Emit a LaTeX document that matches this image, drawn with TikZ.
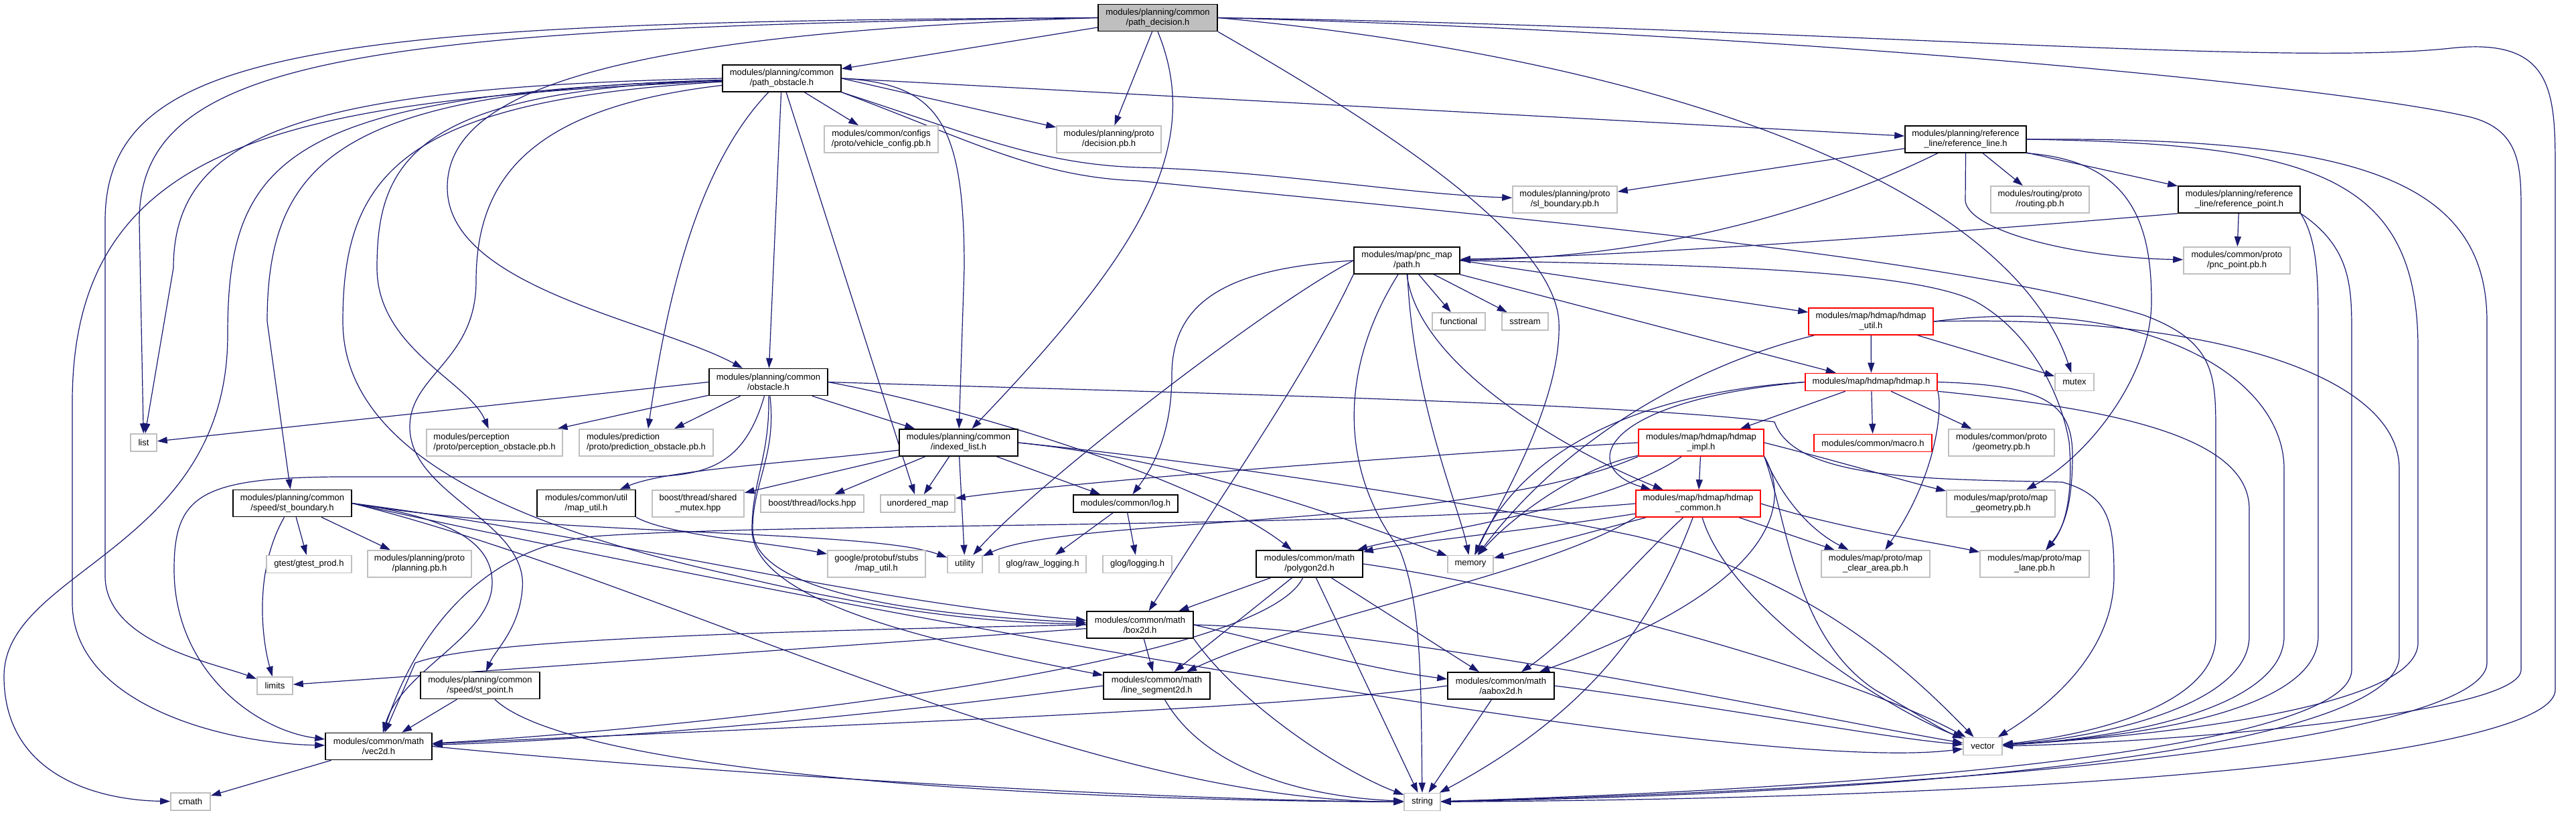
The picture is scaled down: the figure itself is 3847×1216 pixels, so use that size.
\documentclass[tikz,border=0pt]{standalone}
\usepackage{fontspec}
\setmainfont{Liberation Sans}
\usepackage{xcolor}
\usetikzlibrary{arrows.meta}

\definecolor{edgeblue}{RGB}{25,25,112}
\definecolor{boxgray}{RGB}{191,191,191}
\newcommand{\dxfont}{\fontsize{13pt}{15pt}\selectfont}
\pgfdeclarelayer{bg}
\pgfsetlayers{bg,main}

\begin{document}
\begin{tikzpicture}[x=1pt, y=-1pt,
    doc/.style={draw=black, line width=1.6pt, fill=white, font=\dxfont, align=center, inner sep=0pt, minimum height=40},
    sys/.style={doc, draw=boxgray},
    cut/.style={doc, draw=red},
    one/.style={minimum height=26},
    dep/.style={draw=edgeblue, line width=1.2pt, -{Triangle[length=15pt, width=10pt]}}]

        \useasboundingbox (0,0) rectangle (3847,1216);

        % Fila 0-4
        \node[doc, fill=boxgray, minimum width=178] (pd) at (1729,26.5) {modules/planning/common\\/path\_decision.h};
        \node[doc, minimum width=177] (po) at (1167.5,117) {modules/planning/common\\/path\_obstacle.h};
        \node[sys, minimum width=170] (vcfg) at (1316,208) {modules/common/configs\\/proto/vehicle\_config.pb.h};
        \node[sys, minimum width=156] (dec) at (1656,208) {modules/planning/proto\\/decision.pb.h};
        \node[doc, minimum width=181] (refl) at (2935.5,208) {modules/planning/reference\\\_line/reference\_line.h};
        \node[sys, minimum width=156] (slb) at (2337,298) {modules/planning/proto\\/sl\_boundary.pb.h};
        \node[sys, minimum width=147] (rout) at (3046.5,298) {modules/routing/proto\\/routing.pb.h};
        \node[doc, minimum width=182] (refp) at (3344,298) {modules/planning/reference\\\_line/reference\_point.h};
        \node[doc, minimum width=158] (path) at (2101,389) {modules/map/pnc\_map\\/path.h};
        \node[sys, minimum width=159] (pncp) at (3340.5,389) {modules/common/proto\\/pnc\_point.pb.h};

        % Fila 5-7
        \node[sys, one, minimum width=79] (func) at (2178.5,480) {functional};
        \node[sys, one, minimum width=69] (sstr) at (2277.5,480) {sstream};
        \node[cut, minimum width=186] (hutil) at (2794,480) {modules/map/hdmap/hdmap\\\_util.h};
        \node[doc, minimum width=177] (obs) at (1147.5,570.5) {modules/planning/common\\/obstacle.h};
        \node[cut, one, minimum width=197] (hdmap) at (2794.5,570.5) {modules/map/hdmap/hdmap.h};
        \node[sys, one, minimum width=58] (mutex) at (3098,570.5) {mutex};
        \node[sys, one, minimum width=39] (list) at (214.5,661) {list};
        \node[sys, align=left, minimum width=203] (perc) at (738.5,661) {modules/perception\\/proto/perception\_obstacle.pb.h};
        \node[sys, align=left, minimum width=200] (pred) at (965,661) {modules/prediction\\/proto/prediction\_obstacle.pb.h};
        \node[doc, minimum width=177] (il) at (1431.5,661) {modules/planning/common\\/indexed\_list.h};
        \node[cut, minimum width=187] (himpl) at (2540.5,661) {modules/map/hdmap/hdmap\\\_impl.h};
        \node[cut, one, minimum width=176] (macro) at (2797,661.5) {modules/common/macro.h};
        \node[sys, minimum width=158] (geom) at (2989,661) {modules/common/proto\\/geometry.pb.h};

        % Fila 8-9
        \node[doc, minimum width=177] (stb) at (436.5,751.5) {modules/planning/common\\/speed/st\_boundary.h};
        \node[doc, minimum width=147] (mutil) at (875.5,751.5) {modules/common/util\\/map\_util.h};
        \node[sys, minimum width=137] (smtx) at (1042.5,752) {boost/thread/shared\\\_mutex.hpp};
        \node[sys, one, minimum width=154] (locks) at (1213,752) {boost/thread/locks.hpp};
        \node[sys, one, minimum width=111] (umap) at (1370.5,752) {unordered\_map};
        \node[doc, one, minimum width=156] (log) at (1681,752) {modules/common/log.h};
        \node[cut, minimum width=186] (hcom) at (2536,752) {modules/map/hdmap/hdmap\\\_common.h};
        \node[sys, minimum width=162] (mgeom) at (2988,752) {modules/map/proto/map\\\_geometry.pb.h};
        \node[sys, one, minimum width=127] (gtest) at (461.5,842.5) {gtest/gtest\_prod.h};
        \node[sys, minimum width=155] (plan) at (626.5,842) {modules/planning/proto\\/planning.pb.h};
        \node[sys, minimum width=146] (gmutil) at (1309,842) {google/protobuf/stubs\\/map\_util.h};
        \node[sys, one, minimum width=52] (util) at (1441,842.5) {utility};
        \node[sys, one, minimum width=130] (rawlog) at (1557,842.5) {glog/raw\_logging.h};
        \node[sys, one, minimum width=103] (glog) at (1698.5,842.5) {glog/logging.h};
        \node[doc, minimum width=159] (poly) at (1955.5,842) {modules/common/math\\/polygon2d.h};
        \node[sys, one, minimum width=68] (mem) at (2196,842.5) {memory};
        \node[sys, minimum width=162] (clr) at (2801,842) {modules/map/proto/map\\\_clear\_area.pb.h};
        \node[sys, minimum width=163] (lane) at (3038.5,842) {modules/map/proto/map\\\_lane.pb.h};

        % Fila 10-13
        \node[doc, minimum width=159] (box) at (1702.5,933) {modules/common/math\\/box2d.h};
        \node[sys, one, minimum width=53] (limits) at (410.5,1024) {limits};
        \node[doc, minimum width=178] (stp) at (717,1023.5) {modules/planning/common\\/speed/st\_point.h};
        \node[doc, minimum width=159] (lseg) at (1727.5,1024) {modules/common/math\\/line\_segment2d.h};
        \node[doc, minimum width=159] (aab) at (2241.5,1024) {modules/common/math\\/aabox2d.h};
        \node[doc, minimum width=159] (vecd) at (565.5,1114.5) {modules/common/math\\/vec2d.h};
        \node[sys, one, minimum width=58] (vec) at (2961,1114.5) {vector};
        \node[sys, one, minimum width=59] (cmath) at (284.5,1197) {cmath};
        \node[sys, one, minimum width=54] (str) at (2124,1197.5) {string};

        \begin{pgfonlayer}{bg}
        % path_decision.h
        \draw[dep] (pd) -- (po);
        \draw[dep] (pd) -- (dec);
        \draw[dep] (pd.west) .. controls (520,40) and (208,90) .. (208,330) -- (list);
        \draw[dep] (pd.west) .. controls (480,32) and (157,70) .. (157,330) -- (157,860) .. controls (157,960) and (320,990) .. (limits);
        \draw[dep] (pd.west) .. controls (900,50) and (668,140) .. (668,280) .. controls (668,430) and (980,480) .. (obs);
        \draw[dep] (pd.south) .. controls (1800,220) and (1700,380) .. (il);
        \draw[dep] (pd.east) .. controls (2500,90) and (3000,280) .. (mutex);
        \draw[dep] (pd.south east) .. controls (2050,180) and (2320,350) .. (2328,480) .. controls (2333,600) and (2240,750) .. (mem);
        \draw[dep] (pd.east) .. controls (2700,40) and (3400,100) .. (3660,72) .. controls (3816,55) and (3816,140) .. (3816,260) -- (3816,1030) .. controls (3816,1110) and (3300,1190) .. (str);
        \draw[dep] (pd.east) .. controls (2700,50) and (3500,130) .. (3690,175) .. controls (3765,195) and (3765,250) .. (3765,320) -- (3765,1000) .. controls (3765,1070) and (3200,1110) .. (vec);

        % path_obstacle.h
        \draw[dep] (po) -- (vcfg);
        \draw[dep] (po.east) -- (dec);
        \draw[dep] (po.east) -- (refl);
        \draw[dep] (po.south east) .. controls (1450,200) and (1550,245) .. (1700,250) .. controls (1900,255) and (2100,290) .. (slb);
        \draw[dep] (po.south east) .. controls (1450,210) and (1550,265) .. (1700,270) .. controls (2200,320) and (2900,380) .. (3200,470) .. controls (3309,510) and (3309,560) .. (3309,650) -- (3309,950) .. controls (3309,1060) and (3100,1100) .. (vec);
        \draw[dep] (po.west) .. controls (450,130) and (259,200) .. (259,400) -- (list);
        \draw[dep] (po) -- (obs);
        \draw[dep] (po.east) .. controls (1400,125) and (1440,180) .. (1440,400) -- (il);
        \draw[dep] (po) -- (umap);
        \draw[dep] (po) .. controls (1040,250) and (995,450) .. (pred);
        \draw[dep] (po) .. controls (620,135) and (563,240) .. (563,400) .. controls (563,520) and (700,570) .. (perc);
        \draw[dep] (po) .. controls (520,135) and (399,230) .. (399,480) -- (stb);
        \draw[dep] (po) .. controls (600,150) and (512,260) .. (512,480) .. controls (512,680) and (780,790) .. (1100,860) .. controls (1350,920) and (1500,930) .. (box);
        \draw[dep] (po) .. controls (420,140) and (340,240) .. (340,500) .. controls (340,820) and (6,850) .. (6,1010) .. controls (6,1160) and (150,1195) .. (cmath);
        \draw[dep] (po) .. controls (450,150) and (108,200) .. (108,600) -- (108,900) .. controls (108,1050) and (330,1110) .. (vecd);
        \draw[dep] (po) .. controls (800,160) and (711,260) .. (711,420) .. controls (711,540) and (610,560) .. (612,640) .. controls (615,740) and (790,780) .. (780,880) .. controls (775,940) and (740,970) .. (stp);

        % obstacle.h
        \draw[dep] (obs) -- (pred);
        \draw[dep] (obs) -- (perc);
        \draw[dep] (obs.west) -- (list);
        \draw[dep] (obs) -- (il);
        \draw[dep] (obs.east) .. controls (1450,610) and (1800,720) .. (poly);
        \draw[dep] (obs) .. controls (1160,680) and (1124,720) .. (1124,790) .. controls (1124,890) and (1400,920) .. (box);
        \draw[dep] (obs) .. controls (1150,680) and (1123,720) .. (1123,790) .. controls (1123,900) and (1400,960) .. (lseg);
        \draw[dep] (obs) .. controls (1110,700) and (1050,712) .. (950,712) -- (500,712) .. controls (300,714) and (260,740) .. (260,850) .. controls (260,1000) and (380,1090) .. (vecd);
        \draw[dep] (obs.east) .. controls (1700,585) and (2400,600) .. (2650,630) .. controls (2680,720) and (2900,715) .. (3080,720) .. controls (3150,740) and (3157,780) .. (3157,860) .. controls (3157,980) and (3050,1060) .. (vec);

        % indexed_list.h
        \draw[dep] (il) -- (smtx);
        \draw[dep] (il) -- (locks);
        \draw[dep] (il) -- (umap);
        \draw[dep] (il) -- (log);
        \draw[dep] (il) -- (util);
        \draw[dep] (il) .. controls (1200,690) and (1000,700) .. (mutil);
        \draw[dep] (il.east) .. controls (1800,690) and (2050,790) .. (mem);
        \draw[dep] (il.east) .. controls (1900,700) and (2300,770) .. (2440,800) .. controls (2700,860) and (2850,1000) .. (vec);

        % log.h, map_util.h
        \draw[dep] (log) -- (rawlog);
        \draw[dep] (log) -- (glog);
        \draw[dep] (mutil.south east) .. controls (1000,800) and (1150,810) .. (gmutil);

        % st_boundary.h
        \draw[dep] (stb) -- (gtest);
        \draw[dep] (stb) -- (plan);
        \draw[dep] (stb) .. controls (380,850) and (390,950) .. (limits);
        \draw[dep] (stb.east) .. controls (900,800) and (1300,900) .. (box);
        \draw[dep] (stb.east) .. controls (800,800) and (1300,790) .. (util);
        \draw[dep] (stb.east) .. controls (650,770) and (735,800) .. (735,870) .. controls (735,950) and (600,1000) .. (vecd);
        \draw[dep] (stb.east) .. controls (1000,870) and (1600,1195) .. (str);
        \draw[dep] (stb.east) .. controls (1200,900) and (2600,1160) .. (vec);

        % st_point.h, vec2d.h
        \draw[dep] (stp) -- (vecd);
        \draw[dep] (stp) .. controls (850,1150) and (1500,1195) .. (str);
        \draw[dep] (vecd) -- (cmath);
        \draw[dep] (vecd.east) .. controls (1000,1150) and (1700,1195) .. (str);

        % box2d.h, line_segment2d.h, aabox2d.h
        \draw[dep] (box) -- (limits);
        \draw[dep] (box) -- (lseg);
        \draw[dep] (box.west) .. controls (1000,945) and (700,960) .. (620,990) -- (vecd);
        \draw[dep] (box.east) .. controls (1900,960) and (2050,1000) .. (aab);
        \draw[dep] (box.south east) .. controls (1850,1050) and (2000,1150) .. (str);
        \draw[dep] (box.east) .. controls (2100,940) and (2700,1070) .. (vec);
        \draw[dep] (lseg.west) .. controls (1300,1070) and (900,1105) .. (vecd);
        \draw[dep] (lseg) .. controls (1800,1150) and (1950,1190) .. (str);
        \draw[dep] (aab.west) .. controls (1900,1060) and (1300,1080) .. (vecd);
        \draw[dep] (aab) -- (str);
        \draw[dep] (aab.east) .. controls (2600,1060) and (2800,1100) .. (vec);

        % polygon2d.h
        \draw[dep] (poly) -- (box);
        \draw[dep] (poly) -- (lseg);
        \draw[dep] (poly) -- (aab);
        \draw[dep] (poly) -- (str);
        \draw[dep] (poly) .. controls (1880,1000) and (1000,1090) .. (vecd);
        \draw[dep] (poly.east) .. controls (2300,880) and (2750,1000) .. (vec);

        % path.h
        \draw[dep] (path) -- (func);
        \draw[dep] (path) -- (sstr);
        \draw[dep] (path.east) -- (hutil);
        \draw[dep] (path) -- (hdmap);
        \draw[dep] (path.south) .. controls (2120,560) and (2380,690) .. (hcom);
        \draw[dep] (path) .. controls (2110,600) and (2180,760) .. (mem);
        \draw[dep] (path.west) .. controls (1850,400) and (1750,440) .. (1750,560) .. controls (1750,650) and (1720,700) .. (log);
        \draw[dep] (path) .. controls (2000,550) and (2000,700) .. (2090,820) .. controls (2122,900) and (2122,1000) .. (str);
        \draw[dep] (path.south west) .. controls (1950,560) and (1850,700) .. (box);
        \draw[dep] (path.west) .. controls (1900,450) and (1550,720) .. (util);
        \draw[dep] (path.east) .. controls (2500,395) and (2850,400) .. (2950,450) .. controls (3040,500) and (3080,600) .. (3090,660) .. controls (3095,720) and (3090,780) .. (lane);

        % reference_line.h
        \draw[dep] (refl) -- (rout);
        \draw[dep] (refl) -- (refp);
        \draw[dep] (refl) -- (slb);
        \draw[dep] (refl.south) -- (2935,300) .. controls (2940,345) and (3100,385) .. (pncp);
        \draw[dep] (refl) .. controls (2750,300) and (2500,385) .. (path);
        \draw[dep] (refl.south east) .. controls (3180,240) and (3213,330) .. (3213,450) .. controls (3213,560) and (3120,680) .. (mgeom);
        \draw[dep] (refl.east) .. controls (3450,215) and (3611,260) .. (3611,520) -- (3611,960) .. controls (3611,1060) and (3200,1100) .. (vec);
        \draw[dep] (refl.east) .. controls (3500,205) and (3714,260) .. (3714,480) -- (3714,990) .. controls (3714,1080) and (3200,1170) .. (str);

        % reference_point.h
        \draw[dep] (refp) -- (pncp);
        \draw[dep] (refp.south west) .. controls (3000,340) and (2500,380) .. (path);
        \draw[dep] (refp.south east) .. controls (3462,360) and (3462,420) .. (3462,500) -- (3462,950) .. controls (3462,1060) and (3200,1100) .. (vec);
        \draw[dep] (refp.south east) .. controls (3512,370) and (3512,430) .. (3512,500) -- (3512,1000) .. controls (3512,1100) and (3000,1170) .. (str);

        % hdmap_util.h
        \draw[dep] (hutil) -- (hdmap);
        \draw[dep] (hutil) -- (mutex);
        \draw[dep] (hutil) .. controls (2550,540) and (2350,640) .. (mem);
        \draw[dep] (hutil.east) .. controls (3200,440) and (3411,560) .. (3411,700) -- (3411,950) .. controls (3411,1050) and (3200,1100) .. (vec);
        \draw[dep] (hutil.east) .. controls (3300,470) and (3583,560) .. (3583,700) -- (3583,980) .. controls (3583,1090) and (3100,1180) .. (str);

        % hdmap.h
        \draw[dep] (hdmap) -- (himpl);
        \draw[dep] (hdmap) -- (macro);
        \draw[dep] (hdmap) -- (geom);
        \draw[dep] (hdmap.west) .. controls (2380,600) and (2360,700) .. (hcom);
        \draw[dep] (hdmap.west) .. controls (2400,590) and (2260,700) .. (mem);
        \draw[dep] (hdmap.east) .. controls (3050,575) and (3095,600) .. (3095,680) .. controls (3095,760) and (3080,790) .. (lane);
        \draw[dep] (hdmap.south east) .. controls (2900,600) and (2898,700) .. (clr);
        \draw[dep] (hdmap.south east) .. controls (3150,610) and (3359,650) .. (3359,760) -- (3359,950) .. controls (3359,1050) and (3150,1100) .. (vec);

        % hdmap_impl.h
        \draw[dep] (himpl) -- (hcom);
        \draw[dep] (himpl.west) .. controls (2100,680) and (1600,720) .. (umap);
        \draw[dep] (himpl.south west) .. controls (2200,790) and (1600,770) .. (util);
        \draw[dep] (himpl) .. controls (2400,760) and (2100,800) .. (poly);
        \draw[dep] (himpl) .. controls (2350,700) and (2250,780) .. (mem);
        \draw[dep] (himpl.south east) .. controls (2680,760) and (2640,880) .. (aab);
        \draw[dep] (himpl.south east) .. controls (2660,740) and (2700,790) .. (clr);
        \draw[dep] (himpl.east) .. controls (2750,690) and (2850,720) .. (mgeom);
        \draw[dep] (himpl.south east) .. controls (2670,780) and (2680,950) .. (2800,1030) .. controls (2870,1070) and (2900,1090) .. (vec);

        % hdmap_common.h
        \draw[dep] (hcom) -- (mem);
        \draw[dep] (hcom) -- (clr);
        \draw[dep] (hcom) .. controls (2300,790) and (2100,810) .. (poly);
        \draw[dep] (hcom) .. controls (2430,850) and (2350,950) .. (aab);
        \draw[dep] (hcom.south west) .. controls (2300,860) and (1950,920) .. (lseg);
        \draw[dep] (hcom.west) .. controls (2000,790) and (1200,780) .. (900,800) .. controls (720,810) and (620,950) .. (vecd);
        \draw[dep] (hcom.east) .. controls (2750,790) and (2890,810) .. (lane);
        \draw[dep] (hcom) .. controls (2480,900) and (2400,1050) .. (str);
        \draw[dep] (hcom) .. controls (2580,900) and (2800,1050) .. (vec);
        \end{pgfonlayer}

    \end{tikzpicture}
\end{document}
